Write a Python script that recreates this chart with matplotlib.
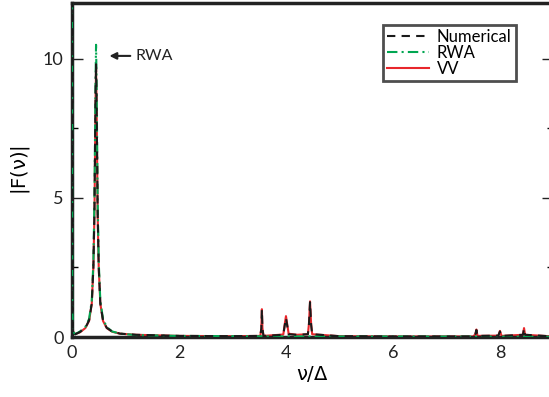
import matplotlib
matplotlib.use("Agg")
import matplotlib.pyplot as plt

plt.rcParams['font.family'] = ['Lato', 'DejaVu Sans']

# frequency grid (nu / Delta) and |F(nu)|
nu_num = [0.0, 0.005, 0.02, 0.06, 0.15, 0.25, 0.32, 0.37, 0.40, 0.42, 0.44, 0.45,
          0.46, 0.48, 0.50, 0.53, 0.58, 0.65, 0.75, 0.9, 1.2, 2.0, 3.0, 3.52,
          3.54, 3.55, 3.56, 3.58, 3.95, 3.98, 4.0, 4.02, 4.05, 4.2, 4.41, 4.43,
          4.45, 4.47, 4.49, 5.0, 6.0, 7.5, 7.54, 7.56, 7.58, 7.97, 8.0, 8.03,
          8.43, 8.45, 8.47, 9.0]
F_num = [15.0, 1.0, 0.2, 0.1, 0.18, 0.33, 0.6, 1.2, 2.5, 4.5, 8.5, 9.8,
         8.5, 4.5, 2.5, 1.2, 0.6, 0.33, 0.2, 0.12, 0.08, 0.04, 0.03, 0.04,
         0.3, 0.98, 0.3, 0.04, 0.08, 0.45, 0.68, 0.45, 0.1, 0.08, 0.1, 0.45,
         1.25, 0.45, 0.1, 0.03, 0.02, 0.02, 0.1, 0.25, 0.04, 0.05, 0.2, 0.04,
         0.08, 0.3, 0.08, 0.02]

nu_rwa = [0.0, 0.005, 0.02, 0.06, 0.15, 0.25, 0.32, 0.37, 0.40, 0.42, 0.44, 0.45,
          0.46, 0.48, 0.50, 0.53, 0.58, 0.65, 0.75, 0.9, 1.2, 2.0, 4.0, 6.0, 9.0]
F_rwa = [15.0, 1.0, 0.2, 0.1, 0.2, 0.36, 0.65, 1.3, 2.7, 4.9, 9.2, 10.5,
         9.2, 4.9, 2.7, 1.3, 0.65, 0.36, 0.2, 0.12, 0.07, 0.04, 0.02, 0.02, 0.01]

nu_vv = [0.0, 0.005, 0.02, 0.06, 0.15, 0.25, 0.32, 0.37, 0.40, 0.42, 0.44, 0.45,
         0.46, 0.48, 0.50, 0.53, 0.58, 0.65, 0.75, 0.9, 1.2, 2.0, 3.0, 3.52,
         3.54, 3.55, 3.56, 3.58, 3.95, 3.98, 4.0, 4.02, 4.05, 4.2, 4.41, 4.43,
         4.45, 4.47, 4.49, 5.0, 6.0, 7.5, 7.54, 7.56, 7.58, 7.97, 8.0, 8.03,
         8.43, 8.45, 8.47, 9.0]
F_vv = [15.0, 1.0, 0.2, 0.1, 0.17, 0.32, 0.58, 1.2, 2.5, 4.4, 8.4, 9.7,
        8.4, 4.4, 2.5, 1.2, 0.58, 0.32, 0.19, 0.12, 0.08, 0.04, 0.03, 0.04,
        0.32, 1.0, 0.32, 0.04, 0.09, 0.5, 0.75, 0.5, 0.12, 0.08, 0.1, 0.48,
        1.28, 0.48, 0.1, 0.03, 0.02, 0.02, 0.1, 0.27, 0.04, 0.05, 0.22, 0.04,
        0.08, 0.32, 0.08, 0.02]

fig = plt.figure(figsize=(5.49, 3.97), dpi=100)
ax = fig.add_axes([0.1311, 0.1511, 0.877, 0.8413])

ax.plot(nu_vv, F_vv, color='#e8262b', lw=1.5, ls='-', label='VV', zorder=2)
ax.plot(nu_rwa, F_rwa, color='#00a651', lw=1.5, ls=(0, (5, 2, 1, 2)), label='RWA', zorder=3)
ax.plot(nu_num, F_num, color='#1a1a1a', lw=1.5, ls=(0, (4, 3)), label='Numerical', zorder=4)

ax.set_xlim(0, 9)
ax.set_ylim(0, 12)
ax.set_xticks([0, 2, 4, 6, 8])
ax.set_yticks([0, 5, 10])
ax.set_yticks([2.5, 7.5], minor=True)
ax.tick_params(axis='x', length=0, labelsize=13, pad=6, colors='#222222')
ax.tick_params(axis='y', which='major', direction='in', length=8, width=1,
               right=True, labelsize=13, pad=6, colors='#222222')
ax.tick_params(axis='y', which='minor', direction='in', length=4, width=1, right=True)
for s in ax.spines.values():
    s.set_linewidth(2.5)
    s.set_color('#222222')

ax.set_xlabel(r'$\mathsf{\nu/\Delta}$', fontsize=14, labelpad=2)
ax.set_ylabel(r'$\mathsf{|F(\nu)|}$', fontsize=14, labelpad=8)

# arrow pointing at the RWA peak
ax.annotate('', xy=(0.70, 10.1), xytext=(1.09, 10.1),
            arrowprops=dict(arrowstyle='-|>', color='#222222', lw=1.5,
                            mutation_scale=10, shrinkA=0, shrinkB=0))
ax.text(1.18, 10.1, 'RWA', fontsize=11.5, va='center', ha='left', color='#222222')

handles, labels = ax.get_legend_handles_labels()
leg = ax.legend(handles[::-1], labels[::-1], loc='upper right',
                bbox_to_anchor=(0.922, 0.934), fontsize=12, frameon=True,
                fancybox=False, handlelength=2.5, handletextpad=0.5,
                labelspacing=0.0, borderpad=0.25, borderaxespad=0)
leg.get_frame().set_edgecolor('#222222')
leg.get_frame().set_linewidth(2)

fig.savefig('out.png', dpi=100)
